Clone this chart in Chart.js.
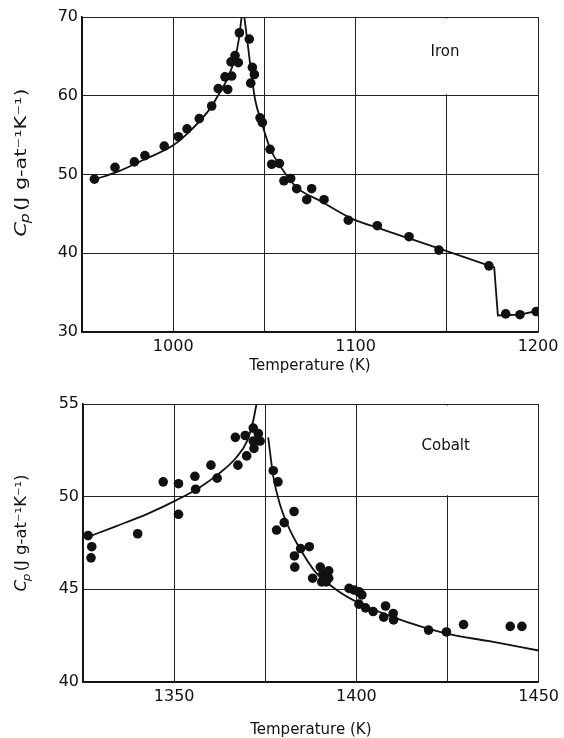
<!DOCTYPE html>
<html>
<head>
<meta charset="utf-8">
<script src="https://cdn.jsdelivr.net/npm/chart.js@4/dist/chart.umd.min.js"></script>
<style>
  html, body { margin: 0; padding: 0; background: #fff; }
  body { width: 564px; height: 738px; position: relative; overflow: hidden; }
  canvas { position: absolute; left: 0; }
  #iron { top: 0; }
  #cobalt { top: 380px; }
</style>
</head>
<body>
<canvas id="iron" width="564" height="380"></canvas>
<canvas id="cobalt" width="564" height="358"></canvas>
<script>
// ---- Iron: measured heat capacity (points) ----
const ironPointT  = [956.8, 968.1, 978.7, 984.5, 995.1, 1002.8, 1007.6, 1014.3, 1021.1, 1024.7,
                     1029.9, 1028.4, 1032.1, 1031.7, 1035.7, 1033.9, 1036.3, 1041.7, 1043.4, 1044.5,
                     1042.5, 1047.6, 1048.9, 1053.1, 1054.0, 1058.2, 1060.7, 1064.4, 1067.7, 1075.9,
                     1073.2, 1082.7, 1096.0, 1111.9, 1129.3, 1145.7, 1173.1, 1182.3, 1190.1, 1199.0];
const ironPointCp = [49.4, 50.9, 51.6, 52.4, 53.6, 54.8, 55.8, 57.1, 58.7, 60.9,
                     60.8, 62.4, 62.5, 64.3, 64.2, 65.1, 68.0, 67.2, 63.6, 62.7,
                     61.6, 57.2, 56.6, 53.2, 51.3, 51.4, 49.2, 49.5, 48.2, 48.2,
                     46.8, 46.8, 44.2, 43.5, 42.1, 40.4, 38.4, 32.3, 32.2, 32.6];
// Iron: fitted curve below the Curie point
const ironBelowT  = [956, 970, 985, 1000, 1010, 1020, 1025, 1030, 1034, 1036, 1037.5];
const ironBelowCp = [49.3, 50.4, 52.0, 53.7, 55.7, 58.3, 60.2, 62.3, 64.9, 67.2, 70];
// Iron: fitted curve above the Curie point
const ironAboveT  = [1039, 1041, 1043, 1045, 1048.5, 1053, 1060, 1068, 1081, 1097, 1115, 1142];
const ironAboveCp = [70, 66.3, 62.5, 59.4, 56.6, 53.4, 50.6, 48.3, 46.6, 44.5, 43.0, 40.9];
// Iron: straight run into the alpha-gamma step
const ironStepT   = [1142, 1176, 1178, 1190, 1200];
const ironStepCp  = [40.9, 38.2, 32.1, 32.2, 32.7];
const ironTempTicks = [1000, 1100, 1200];
const ironCpTicks   = [30, 40, 50, 60, 70];

// ---- Cobalt: measured heat capacity (points) ----
const cobaltPointT  = [1326.4, 1327.4, 1327.2, 1340.0, 1347.0, 1351.2, 1351.2, 1355.7, 1355.9, 1360.1,
                       1361.8, 1366.8, 1367.5, 1369.5, 1369.9, 1371.7, 1371.7, 1371.9, 1373.1, 1373.6,
                       1377.2, 1378.5, 1378.1, 1380.2, 1382.9, 1383.0, 1383.1, 1384.7, 1387.1, 1388.0,
                       1390.1, 1390.8, 1390.5, 1392.4, 1392.4, 1391.7, 1398.0, 1399.4, 1400.7, 1401.5,
                       1400.7, 1402.5, 1404.6, 1408.0, 1407.5, 1410.1, 1410.2, 1419.8, 1424.7, 1429.4,
                       1442.2, 1445.4];
const cobaltPointCp = [47.9, 47.3, 46.7, 48.0, 50.8, 50.7, 49.05, 51.1, 50.4, 51.7,
                       51.0, 53.2, 51.7, 53.3, 52.2, 53.7, 53.0, 52.6, 53.4, 53.0,
                       51.4, 50.8, 48.2, 48.6, 49.2, 46.8, 46.2, 47.2, 47.3, 45.6,
                       46.2, 45.8, 45.4, 46.0, 45.6, 45.4, 45.05, 44.96, 44.87, 44.7,
                       44.2, 44.0, 43.8, 44.1, 43.5, 43.7, 43.35, 42.8, 42.7, 43.1,
                       43.0, 43.0];
// Cobalt: fitted curves on either side of the Curie point
const cobaltBelowT  = [1326, 1334, 1343, 1350.5, 1357, 1362, 1367, 1370, 1371.7, 1372.6];
const cobaltBelowCp = [47.8, 48.4, 49.1, 49.8, 50.5, 51.2, 52.1, 53.0, 54.1, 55.0];
const cobaltAboveT  = [1375.8, 1377.2, 1379, 1381.3, 1384.5, 1388.5, 1394, 1400.3, 1410, 1425, 1436.5, 1450];
const cobaltAboveCp = [53.2, 51.1, 49.6, 48.4, 47.2, 46.0, 45.05, 44.3, 43.5, 42.6, 42.2, 41.7];
const cobaltTempTicks = [1350, 1400, 1450];
const cobaltCpTicks   = [40, 45, 50, 55];

const INK = '#111';
const FONT = '"DejaVu Sans", sans-serif';

const zip = (xs, ys) => xs.map((x, i) => ({ x, y: ys[i] }));

// Rotated y-axis title: italic C with subscript p, then the units
const cpTitle = {
  id: 'cpTitle',
  afterDraw(chart, args, o) {
    const ctx = chart.ctx;
    const cy = (chart.chartArea.top + chart.chartArea.bottom) / 2 + o.shift;
    const f = o.size;
    const subF = Math.round(f * 0.72);
    const rest = '(J g-at\u207B\u00B9K\u207B\u00B9)';
    ctx.save();
    ctx.translate(o.x, cy);
    ctx.rotate(-Math.PI / 2);
    ctx.fillStyle = INK;
    ctx.textBaseline = 'alphabetic';
    ctx.textAlign = 'left';
    ctx.font = `italic ${f}px ${FONT}`;
    const wC = ctx.measureText('C').width;
    ctx.font = `italic ${subF}px ${FONT}`;
    const wp = ctx.measureText('p').width;
    ctx.font = `${f}px ${FONT}`;
    const wr = ctx.measureText(rest).width;
    const total = wC + wp + 1 + wr;
    ctx.scale(o.len / total, 1);
    const base = f * 0.36;
    let x = -total / 2;
    ctx.font = `italic ${f}px ${FONT}`;
    ctx.fillText('C', x, base);
    x += wC;
    ctx.font = `italic ${subF}px ${FONT}`;
    ctx.fillText('p', x - 1, base + f * 0.22);
    x += wp + 1;
    ctx.font = `${f}px ${FONT}`;
    ctx.fillText(rest, x, base);
    ctx.restore();
  }
};

// Name of the element, written in a cleared grid cell
const cellNote = {
  id: 'cellNote',
  beforeDatasetsDraw(chart, args, o) {
    const ctx = chart.ctx, xs = chart.scales.x, ys = chart.scales.y;
    const l = xs.getPixelForValue(o.cell[0]) + 1.5;
    const r = xs.getPixelForValue(o.cell[1]) - 1.5;
    const t = ys.getPixelForValue(o.cell[3]) + 1.5;
    const b = ys.getPixelForValue(o.cell[2]) - 1.5;
    ctx.save();
    ctx.fillStyle = '#fff';
    ctx.fillRect(l, t, r - l, b - t);
    ctx.fillStyle = INK;
    ctx.font = `15px ${FONT}`;
    ctx.textAlign = 'center';
    ctx.textBaseline = 'middle';
    ctx.fillText(o.text, xs.getPixelForValue(o.at[0]), ys.getPixelForValue(o.at[1]));
    ctx.restore();
  }
};

function panel(id, p) {
  const curve = {
    showLine: true, pointRadius: 0, borderColor: INK, borderWidth: 1.8,
    cubicInterpolationMode: 'monotone', fill: false
  };
  const straight = {
    showLine: true, pointRadius: 0, borderColor: INK, borderWidth: 1.8,
    tension: 0, fill: false
  };
  const sets = [
    Object.assign({ data: zip(p.belowT, p.belowCp) }, curve),
    Object.assign({ data: zip(p.aboveT, p.aboveCp) }, curve)
  ];
  if (p.stepT) sets.push(Object.assign({ data: zip(p.stepT, p.stepCp) }, straight));
  sets.push({
    data: zip(p.pointT, p.pointCp), showLine: false,
    pointRadius: 4.8, pointBackgroundColor: INK, pointBorderColor: INK, pointBorderWidth: 0
  });
  return new Chart(document.getElementById(id), {
    type: 'scatter',
    data: { datasets: sets },
    options: {
      responsive: false,
      animation: false,
      events: [],
      layout: { padding: p.pad },
      plugins: {
        legend: { display: false },
        tooltip: { enabled: false },
        cpTitle: p.cpTitle,
        cellNote: p.note
      },
      scales: {
        x: {
          type: 'linear', min: p.xMin, max: p.xMax,
          afterFit: s => { s.height = p.xAxisH; },
          grid: { color: '#222', lineWidth: 1, drawTicks: false },
          border: { color: INK, width: 1.6 },
          ticks: {
            stepSize: p.xStep, autoSkip: false, maxRotation: 0, padding: 5,
            color: INK, font: { family: FONT, size: 16 },
            callback: v => p.xLabels.includes(v) ? String(v) : ''
          },
          title: {
            display: true, text: 'Temperature (K)', color: INK,
            font: { family: FONT, size: 15, lineHeight: 1 },
            padding: { top: 0, bottom: p.titlePad }
          }
        },
        y: {
          type: 'linear', min: p.yMin, max: p.yMax,
          afterFit: s => { s.width = p.yAxisW; },
          grid: { color: '#222', lineWidth: 1, drawTicks: false },
          border: { color: INK, width: 1.6 },
          ticks: {
            stepSize: p.yStep, autoSkip: false, padding: 4,
            color: INK, font: { family: FONT, size: 16 },
            callback: v => p.yLabels.includes(v) ? String(v) : ''
          },
          title: { display: false }
        }
      }
    },
    plugins: [cpTitle, cellNote]
  });
}

panel('iron', {
  pointT: ironPointT, pointCp: ironPointCp,
  belowT: ironBelowT, belowCp: ironBelowCp,
  aboveT: ironAboveT, aboveCp: ironAboveCp,
  stepT: ironStepT, stepCp: ironStepCp,
  xMin: 950, xMax: 1200, xStep: 50, xLabels: ironTempTicks,
  yMin: 30, yMax: 70, yStep: 10, yLabels: ironCpTicks,
  pad: { left: 0, right: 26, top: 17, bottom: 0 },
  yAxisW: 82, xAxisH: 48, titlePad: 6,
  cpTitle: { x: 20, shift: -12, size: 16, len: 148 },
  note: { text: 'Iron', cell: [1100, 1200, 60, 70], at: [1149, 65.6] }
});

panel('cobalt', {
  pointT: cobaltPointT, pointCp: cobaltPointCp,
  belowT: cobaltBelowT, belowCp: cobaltBelowCp,
  aboveT: cobaltAboveT, aboveCp: cobaltAboveCp,
  xMin: 1325, xMax: 1450, xStep: 25, xLabels: cobaltTempTicks,
  yMin: 40, yMax: 55, yStep: 5, yLabels: cobaltCpTicks,
  pad: { left: 0, right: 22, top: 24, bottom: 0 },
  yAxisW: 83, xAxisH: 56, titlePad: 0,
  cpTitle: { x: 21, shift: -10, size: 15, len: 117 },
  note: { text: 'Cobalt', cell: [1400, 1450, 50, 55], at: [1424.5, 52.75] }
});
</script>
</body>
</html>
